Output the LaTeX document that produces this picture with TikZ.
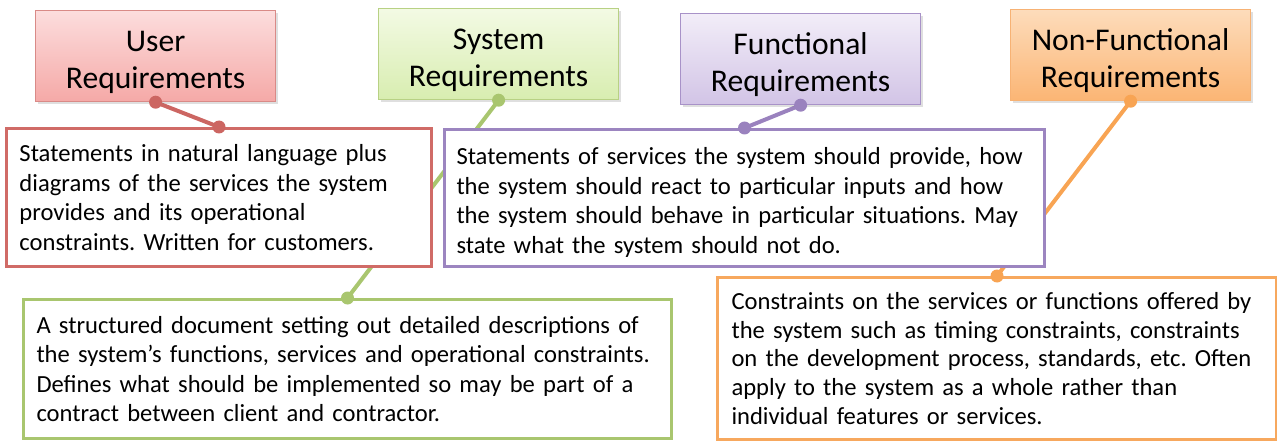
\documentclass[tikz,border=0pt]{standalone}
\usepackage{fontspec}
\setmainfont{Carlito}
\usetikzlibrary{shadows}
\pgfdeclarelayer{bg}
\pgfsetlayers{bg,main}
\definecolor{redB}{HTML}{D06B67}
\definecolor{redTB}{HTML}{D98A87}
\definecolor{redT}{HTML}{FCDDDD}
\definecolor{redF}{HTML}{F5A9A7}
\definecolor{redL}{HTML}{CC6662}
\definecolor{grnB}{HTML}{A9C66F}
\definecolor{grnTB}{HTML}{B8D184}
\definecolor{grnT}{HTML}{F3FAE4}
\definecolor{grnF}{HTML}{D8EDB0}
\definecolor{grnL}{HTML}{A9C66F}
\definecolor{purB}{HTML}{9C85C0}
\definecolor{purTB}{HTML}{A892C8}
\definecolor{purT}{HTML}{F2EDF8}
\definecolor{purF}{HTML}{D2C4E6}
\definecolor{purL}{HTML}{9A82BE}
\definecolor{orgB}{HTML}{F7A85E}
\definecolor{orgTB}{HTML}{F7B274}
\definecolor{orgT}{HTML}{FDDCBB}
\definecolor{orgF}{HTML}{FBB574}
\definecolor{orgL}{HTML}{F8A453}
\frenchspacing
\hyphenpenalty=10000
\newcommand{\tstrut}{\rule{0pt}{33pt}}
\begin{document}
\begin{tikzpicture}[x=1pt,y=-1pt,
  titlebox/.style={draw=#1TB, line width=1.2pt, top color=#1T, bottom color=#1F,
    anchor=north west, minimum width=240, minimum height=91, inner sep=0pt,
    align=center, font=\fontsize{31.6}{37}\selectfont,
    drop shadow={opacity=0.25, shadow xshift=2pt, shadow yshift=-2pt}},
  bodybox/.style={draw=#1B, line width=3pt, fill=white, anchor=north west,
    align=left, inner ysep=0pt, font=\fontsize{24.6}{29.5}\selectfont},
  link/.style={draw=#1L, line width=4pt},
  dot/.style={fill=#1L}]
\useasboundingbox (0,0) rectangle (1277,441);
% title boxes
\node[titlebox=red] (user) at (35,10) {\tstrut User\\Requirements};
\node[titlebox=grn] (sys) at (378,8) {\tstrut System\\Requirements};
\node[titlebox=pur] (func) at (680,13) {\tstrut Functional\\Requirements};
\node[titlebox=org] (nonf) at (1010,9) {\tstrut Non-Functional\\Requirements};
% body boxes
\node[bodybox=red, minimum width=425, minimum height=138, text width=399, inner xsep=13pt] (ureq) at (5,127)
  {Statements in natural language plus\\diagrams of the services the system\\provides and its operational\\constraints. Written for customers.};
\node[bodybox=pur, minimum width=600, minimum height=137, text width=576, inner xsep=12pt] (freq) at (443,128)
  {\rule{0pt}{26pt}Statements of services the system should provide, how\\the system should react to particular inputs and how\\the system should behave in particular situations. May\\state what the system should not do.};
\node[bodybox=grn, minimum width=648, minimum height=139, text width=622, inner xsep=13pt] (sreq) at (22,298)
  {A structured document setting out detailed descriptions of\\the system’s functions, services and operational constraints.\\Defines what should be implemented so may be part of a\\contract between client and contractor.};
\node[bodybox=org, minimum width=559, minimum height=162, text width=531, inner xsep=14pt,
      font=\fontsize{24.6}{28.6}\selectfont] (nreq) at (716,276)
  {Constraints on the services or functions offered by\\the system such as timing constraints, constraints\\on the development process, standards, etc. Often\\apply to the system as a whole rather than\\individual features or services.};
% connectors
\begin{pgfonlayer}{bg}
\draw[link=red] (user.south) -- (ureq.north);
\draw[link=grn] (sys.south) -- (sreq.north);
\draw[link=pur] (func.south) -- (freq.north);
\draw[link=org] (nonf.south) -- (nreq.north);
\end{pgfonlayer}
% dots
\fill[dot=red] (user.south) circle (6.5);
\fill[dot=red] (ureq.north) circle (6.5);
\fill[dot=grn] (sys.south) circle (6.5);
\fill[dot=grn] (sreq.north) circle (6.5);
\fill[dot=pur] (func.south) circle (6.5);
\fill[dot=pur] (freq.north) circle (6.5);
\fill[dot=org] (nonf.south) circle (6.5);
\fill[dot=org] (nreq.north) circle (6.5);
\end{tikzpicture}
\end{document}
